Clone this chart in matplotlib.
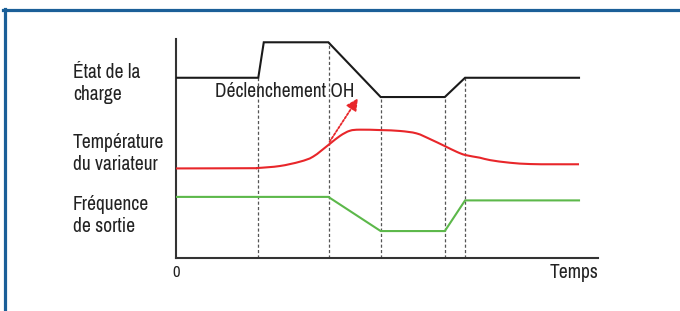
import matplotlib
matplotlib.use("Agg")
import matplotlib.pyplot as plt
from matplotlib.lines import Line2D
from matplotlib.path import Path
from matplotlib.patches import PathPatch

# ---- data (time 0..100, signal level 0..100) ----
load_t = [0, 19.5, 20.8, 36.1, 48.5, 63.7, 68.5, 95.5]
load_v = [82.3, 82.3, 98.5, 98.5, 73.5, 73.5, 82.3, 82.3]

temp_t = [0, 17.5, 19.4, 24.6, 29.4, 32.5, 36.3, 38.9, 41.2, 43.6, 48.6, 53.1,
          57.0, 60.2, 63.7, 66.5, 68.6, 72.0, 74.4, 79.1, 83.9, 89.3, 95.5]
temp_v = [40.9, 41.0, 41.1, 42.0, 44.0, 46.3, 51.9, 55.8, 58.1, 58.6, 58.4, 58.0,
          56.9, 54.3, 51.1, 48.5, 47.0, 45.8, 44.7, 43.5, 42.9, 42.8, 42.8]

freq_t = [0, 36.1, 48.5, 63.7, 68.5, 95.5]
freq_v = [27.9, 27.9, 12.3, 12.3, 26.3, 26.3]

event_t = [19.5, 36.2, 48.6, 63.7, 68.6]
event_top = [82.3, 98.5, 73.5, 73.5, 82.3]

arrow_start = (36.4, 53.1)
arrow_end = (43.1, 72.9)

row_labels = ["État de la\ncharge", "Température\ndu variateur", "Fréquence\nde sortie"]
row_label_y = [83, 153, 216]  # pixel centres
trip_label = "Déclenchement OH"
origin_label = "0"
time_label = "Temps"

plt.rcParams["font.family"] = ["Archivo Narrow", "DejaVu Sans"]
fs = 14

W, H = 680, 311
fig = plt.figure(figsize=(W / 100, H / 100), dpi=100)
fig.patch.set_facecolor("white")

# blue frame (top and left)
blue = "#1b5f98"
fig.add_artist(Line2D([3 / W, 1.0], [1 - 9.5 / H, 1 - 9.5 / H], color=blue, lw=2.3,
                      transform=fig.transFigure))
fig.add_artist(Line2D([4.5 / W, 4.5 / W], [1 - 8.5 / H, 0], color=blue, lw=2.3,
                      transform=fig.transFigure))

ax = fig.add_axes([176 / W, 1 - 258 / H, (598 - 176) / W, (258 - 39) / H])
ax.set_xlim(0, 100)
ax.set_ylim(0, 100)
for s in ["top", "right"]:
    ax.spines[s].set_visible(False)
for s in ["left", "bottom"]:
    ax.spines[s].set_linewidth(1.5)
    ax.spines[s].set_color("#333333")
ax.set_xticks([])
ax.set_yticks([])
ax.patch.set_alpha(0)

# dashed event lines
for t, top in zip(event_t, event_top):
    ax.plot([t, t], [0, top], color="#555555", lw=0.9, ls=(0, (2.5, 1.8)), zorder=1)

ax.plot(load_t, load_v, color="#1a1a1a", lw=1.5, solid_joinstyle="miter", zorder=3)
ax.plot(freq_t, freq_v, color="#5cb84a", lw=1.5, solid_joinstyle="miter", zorder=3)

# smooth temperature curve: Catmull-Rom through read points as cubic Bezier path
pts = list(zip(temp_t, temp_v))
verts = [pts[0]]
codes = [Path.MOVETO]
n = len(pts)
for i in range(n - 1):
    p0 = pts[max(i - 1, 0)]
    p1 = pts[i]
    p2 = pts[i + 1]
    p3 = pts[min(i + 2, n - 1)]
    c1 = (p1[0] + (p2[0] - p0[0]) / 6, p1[1] + (p2[1] - p0[1]) / 6)
    c2 = (p2[0] - (p3[0] - p1[0]) / 6, p2[1] - (p3[1] - p1[1]) / 6)
    verts += [c1, c2, p2]
    codes += [Path.CURVE4] * 3
ax.add_patch(PathPatch(Path(verts, codes), facecolor="none", edgecolor="#e8262a",
                       lw=1.5, zorder=3))

ax.annotate("", xy=arrow_end, xytext=arrow_start,
            arrowprops=dict(arrowstyle="-|>,head_length=0.7,head_width=0.35",
                            color="#e8262a", lw=1.3, ls=(0, (1.2, 1.0)),
                            shrinkA=0, shrinkB=0), zorder=4)

ax.text(25.7, 75.9, trip_label, ha="center", va="center", fontsize=fs, color="#222222",
        zorder=5)

ax.text(0, -6.5, origin_label, ha="center", va="center", fontsize=fs * 0.85, color="#222222",
        clip_on=False)
ax.text(100, -6.5, time_label, ha="right", va="center", fontsize=fs, color="#222222",
        clip_on=False)

for lab, py in zip(row_labels, row_label_y):
    fig.text(73 / W, 1 - py / H, lab, ha="left", va="center", fontsize=fs,
             color="#222222", linespacing=1.2)

fig.savefig("out.png", dpi=100, facecolor="white")
